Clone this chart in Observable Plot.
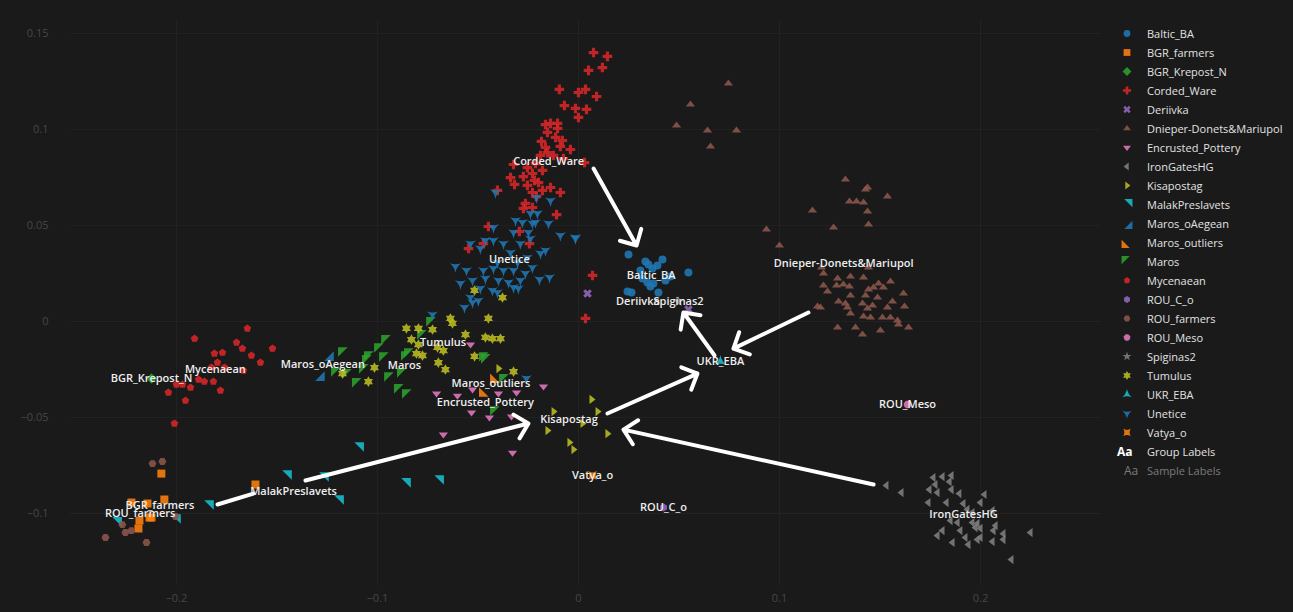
<!DOCTYPE html>
<html><head><meta charset="utf-8">
<script src="https://cdn.jsdelivr.net/npm/d3@7"></script>
<script src="https://cdn.jsdelivr.net/npm/@observablehq/plot@0.6"></script>
<style>
html,body{margin:0;padding:0;background:#1a1a1a;}
#wrap{position:relative;width:1293px;height:612px;overflow:hidden;background:#1a1a1a;}
#legend{position:absolute;left:1117px;top:24px;font-family:"Open Sans",sans-serif;font-size:11px;color:#e2e2e2;}
.item{height:19px;display:flex;align-items:center;white-space:nowrap;}
.item svg{width:20px;height:19px;margin-right:10px;flex:none;}
.aa{width:20px;margin-right:10px;font-weight:700;font-size:12px;text-align:left;flex:none;}
</style></head><body><div id="wrap"><div id="chart"></div><div id="legend"></div></div>
<script>
// ---------- data ----------
const groups = ["Baltic_BA","BGR_farmers","BGR_Krepost_N","Corded_Ware","Deriivka","Dnieper-Donets&Mariupol","Encrusted_Pottery","IronGatesHG","Kisapostag","MalakPreslavets","Maros_oAegean","Maros_outliers","Maros","Mycenaean","ROU_C_o","ROU_farmers","ROU_Meso","Spiginas2","Tumulus","UKR_EBA","Unetice","Vatya_o"];
const palette = ["#1f77b4","#ff7f0e","#2ca02c","#d62728","#9467bd","#8c564b","#e377c2","#7f7f7f","#bcbd22","#17becf"];
const xTicks = [-0.2,-0.1,0,0.1,0.2];
const yTicks = [-0.1,-0.05,0,0.05,0.1,0.15];

const baltic_BA = [[0.0249,0.0349],[0.0333,0.0313],[0.0348,0.0297],[0.0418,0.0323],[0.0393,0.0292],[0.0547,0.0255],[0.0318,0.0224],[0.0343,0.0203],[0.0373,0.0198],[0.0358,0.0182],[0.0433,0.0214],[0.0458,0.0234],[0.0244,0.0156],[0.0264,0.0151],[0.0398,0.0151],[0.0368,0.0276],[0.0308,0.0266]];
const bgr_farmers = [[-0.2075,-0.0792],[-0.1607,-0.0849],[-0.2060,-0.0927],[-0.2224,-0.0943],[-0.2144,-0.0948],[-0.2134,-0.1021],[-0.2184,-0.1037],[-0.2189,-0.1078],[-0.2124,-0.1021]];
const bgr_krepost_N = [[-0.2124,-0.0297]];
const corded_Ware = [[0.0075,0.1401],[0.0144,0.1381],[0.0050,0.1308],[0.0119,0.1323],[-0.0095,0.1209],[0.0000,0.1193],[0.0035,0.1209],[0.0090,0.1172],[-0.0070,0.1125],[-0.0015,0.1110],[0.0040,0.1105],[0.0000,0.1063],[-0.0164,0.1026],[-0.0139,0.1032],[-0.0104,0.1032],[-0.0154,0.0985],[-0.0104,0.1006],[-0.0114,0.0959],[-0.0184,0.0938],[-0.0080,0.0943],[-0.0090,0.0912],[-0.0040,0.0896],[-0.0164,0.0907],[-0.0154,0.0880],[-0.0189,0.0865],[-0.0124,0.0865],[-0.0075,0.0849],[-0.0214,0.0823],[-0.0323,0.0818],[0.0030,0.0828],[-0.0254,0.0802],[-0.0179,0.0787],[-0.0338,0.0750],[-0.0274,0.0755],[-0.0318,0.0714],[-0.0229,0.0771],[-0.0199,0.0724],[-0.0254,0.0709],[-0.0139,0.0698],[-0.0229,0.0672],[-0.0179,0.0683],[-0.0090,0.0672],[-0.0209,0.0651],[-0.0264,0.0615],[-0.0229,0.0594],[-0.0274,0.0589],[-0.0109,0.0557],[-0.0403,0.0683],[-0.0448,0.0495],[-0.0294,0.0469],[-0.0547,0.0380],[-0.0473,0.0406],[-0.0244,0.0406],[0.0070,0.0240],[-0.0219,0.0735],[0.0035,0.0016]];
const deriivka = [[0.0045,0.0146],[0.0547,0.0063]];
const dnieper = [[0.0557,0.1131],[0.0746,0.1240],[0.0488,0.1021],[0.0642,0.0995],[0.0657,0.0912],[0.0786,0.0995],
 [0.1328,0.0740],[0.1438,0.0698],[0.1428,0.0688],[0.1537,0.0651],[0.1348,0.0625],[0.1383,0.0625],[0.1418,0.0620],[0.1164,0.0578],[0.1438,0.0573],[0.1443,0.0505],[0.1269,0.0490],[0.0935,0.0479],[0.1000,0.0396],
 [0.1209,0.0281],[0.1219,0.0250],[0.1289,0.0224],[0.1353,0.0234],[0.1418,0.0229],[0.1443,0.0281],[0.1493,0.0198],[0.1552,0.0208],[0.1219,0.0188],[0.1284,0.0188],[0.1318,0.0193],[0.1348,0.0182],[0.1443,0.0167],[0.1468,0.0177],[0.1517,0.0177],[0.1239,0.0156],[0.1428,0.0135],[0.1488,0.0125],[0.1353,0.0135],[0.1617,0.0146],[0.1562,0.0104],[0.1294,0.0104],[0.1328,0.0094],[0.1413,0.0094],[0.1463,0.0083],[0.1438,0.0068],[0.1189,0.0078],[0.1204,0.0073],[0.1338,0.0073],[0.1537,0.0073],[0.1622,0.0078],[0.1353,0.0042],[0.1418,0.0026],[0.1512,0.0021],[0.1552,0.0021],[0.1453,0.0021],[0.1587,0.0005],[0.1289,-0.0031],[0.1378,-0.0031],[0.1642,-0.0031],[0.1592,-0.0016],[0.1413,-0.0068],[0.1502,-0.0047]];
const encrusted_Pottery = [[-0.0537,-0.0120],[-0.0706,-0.0375],[-0.0602,-0.0386],[-0.0527,-0.0354],[-0.0398,-0.0375],[-0.0308,-0.0370],[-0.0174,-0.0339],[-0.0532,-0.0474],[-0.0443,-0.0500],[-0.0333,-0.0495],[-0.0672,-0.0589],[-0.0328,-0.0683]];
const ironGatesHG = [[0.1532,-0.0854],[0.1607,-0.0891],[0.1766,-0.0813],[0.1811,-0.0808],[0.1856,-0.0802],[0.1776,-0.0849],[0.1846,-0.0834],[0.1746,-0.0875],[0.1786,-0.0891],[0.1856,-0.0875],[0.1895,-0.0896],[0.2020,-0.0901],[0.1741,-0.0943],[0.1831,-0.0943],[0.1915,-0.0948],[0.2000,-0.0943],[0.1935,-0.0979],[0.1960,-0.0995],[0.2060,-0.0985],[0.1851,-0.1037],[0.1886,-0.1047],[0.1960,-0.1047],[0.1985,-0.1052],[0.1975,-0.1073],[0.2000,-0.1078],[0.2075,-0.1063],[0.2065,-0.1089],[0.1811,-0.1089],[0.1900,-0.1089],[0.2000,-0.1125],[0.1786,-0.1115],[0.1925,-0.1125],[0.1985,-0.1136],[0.2114,-0.1105],[0.2114,-0.1136],[0.2060,-0.1146],[0.1861,-0.1151],[0.1940,-0.1162],[0.2249,-0.1099],[0.2154,-0.1240]];
const kisapostag = [[0.0065,-0.0406],[0.0095,-0.0469],[-0.0124,-0.0469],[0.0020,-0.0531],[-0.0154,-0.0568],[0.0144,-0.0584],[-0.0045,-0.0630],[-0.0025,-0.0667],[-0.0398,-0.0245]];
const malakPreslavets = [[-0.1099,-0.0662],[-0.1458,-0.0808],[-0.1274,-0.0818],[-0.1199,-0.0938],[-0.0866,-0.0849],[-0.0701,-0.0834],[-0.1846,-0.0964],[-0.2010,-0.1037],[-0.2303,-0.1052]];
const maros_oAegean = [[-0.1249,-0.0172],[-0.1294,-0.0276]];
const maros_outliers = [[-0.0463,-0.0359],[-0.0408,-0.0287]];
const maros = [[-0.0726,-0.0010],[-0.0771,-0.0078],[-0.0950,-0.0104],[-0.0985,-0.0146],[-0.1035,-0.0188],[-0.0960,-0.0193],[-0.1045,-0.0208],[-0.0851,-0.0188],[-0.0836,-0.0172],[-0.1199,-0.0271],[-0.1144,-0.0281],[-0.1060,-0.0255],[-0.0935,-0.0297],[-0.0871,-0.0276],[-0.1095,-0.0328],[-0.0886,-0.0359],[-0.0846,-0.0386],[-0.0463,-0.0193],[-0.1164,-0.0167],[-0.0408,-0.0474],[-0.0453,-0.0203],[-0.0363,-0.0307]];
const mycenaean = [[-0.1647,-0.0036],[-0.1910,-0.0089],[-0.1701,-0.0109],[-0.1672,-0.0141],[-0.1522,-0.0141],[-0.1811,-0.0167],[-0.1771,-0.0162],[-0.1627,-0.0177],[-0.1796,-0.0214],[-0.1582,-0.0214],[-0.1826,-0.0240],[-0.1761,-0.0240],[-0.1667,-0.0255],[-0.1890,-0.0302],[-0.1861,-0.0313],[-0.1816,-0.0313],[-0.2000,-0.0328],[-0.1970,-0.0328],[-0.1930,-0.0344],[-0.2040,-0.0370],[-0.1781,-0.0359],[-0.1955,-0.0412],[-0.2010,-0.0531]];
const rou_C_o = [[0.0423,-0.0969]];
const rou_farmers = [[-0.2119,-0.0740],[-0.2070,-0.0729],[-0.2005,-0.1016],[-0.2269,-0.1058],[-0.2224,-0.1089],[-0.2254,-0.1099],[-0.2353,-0.1125],[-0.2149,-0.1151]];
const rou_Meso = [[0.1637,-0.0432]];
const spiginas2 = [[0.0498,0.0104]];
const tumulus = [[-0.0856,-0.0036],[-0.0796,-0.0036],[-0.0726,-0.0042],[-0.0637,0.0016],[-0.0627,-0.0010],[-0.0448,0.0016],[-0.0562,-0.0068],[-0.0463,-0.0083],[-0.0428,-0.0089],[-0.0388,-0.0089],[-0.0831,-0.0094],[-0.0796,-0.0120],[-0.0806,-0.0167],[-0.0776,-0.0177],[-0.0672,-0.0151],[-0.0701,-0.0135],[-0.0697,-0.0214],[-0.0662,-0.0250],[-0.0517,-0.0182],[-0.0323,-0.0261],[-0.1015,-0.0240],[-0.1174,-0.0271],[-0.1045,-0.0313],[-0.0517,0.0162],[-0.0378,0.0125]];
const ukr_EBA = [[0.0706,-0.0208]];
const unetice = [[-0.0139,0.0630],[-0.0209,0.0646],[-0.0239,0.0563],[-0.0204,0.0563],[-0.0214,0.0516],[-0.0229,0.0511],[-0.0313,0.0526],[-0.0279,0.0516],[-0.0423,0.0490],[-0.0323,0.0464],[-0.0249,0.0464],[-0.0149,0.0511],[-0.0239,0.0432],[-0.0090,0.0448],[-0.0015,0.0432],[-0.0164,0.0370],[-0.0463,0.0422],[-0.0423,0.0422],[-0.0373,0.0406],[-0.0537,0.0406],[-0.0289,0.0406],[-0.0488,0.0380],[-0.0338,0.0359],[-0.0254,0.0333],[-0.0189,0.0354],[-0.0403,0.0307],[-0.0303,0.0307],[-0.0229,0.0281],[-0.0473,0.0266],[-0.0423,0.0276],[-0.0373,0.0266],[-0.0323,0.0266],[-0.0264,0.0250],[-0.0527,0.0214],[-0.0463,0.0224],[-0.0398,0.0214],[-0.0348,0.0203],[-0.0289,0.0214],[-0.0194,0.0219],[-0.0144,0.0229],[-0.0488,0.0172],[-0.0428,0.0162],[-0.0323,0.0177],[-0.0299,0.0172],[-0.0403,0.0151],[-0.0537,0.0125],[-0.0612,0.0287],[-0.0557,0.0266],[-0.0567,0.0073],[-0.0527,0.0099],[-0.0726,0.0036],[-0.0259,-0.0297],[-0.0015,0.0438],[-0.0413,0.0672],[-0.0498,0.0109],[-0.0587,0.0198]];
const vatya_o = [[0.0070,-0.0802]];

const seriesPoints = [baltic_BA,bgr_farmers,bgr_krepost_N,corded_Ware,deriivka,dnieper,encrusted_Pottery,ironGatesHG,kisapostag,malakPreslavets,maros_oAegean,maros_outliers,maros,mycenaean,rou_C_o,rou_farmers,rou_Meso,spiginas2,tumulus,ukr_EBA,unetice,vatya_o];

// annotation arrows (data units)
const arrowStarts = [[0.0075,0.0797],[0.1144,0.0047],[0.0677,-0.0177],[0.0144,-0.0479],[0.1468,-0.0849],[-0.1358,-0.0828]];
const arrowEnds   = [[0.0289,0.0396],[0.0771,-0.0141],[0.0522,0.0047],[0.0592,-0.0271],[0.0224,-0.0563],[-0.0249,-0.0531]];
const lineStarts = [[-0.1796,-0.0953]];
const lineEnds   = [[-0.1617,-0.0896]];

// ---------- symbols (plotly-like) ----------
function poly(pts){return {draw(ctx,size){const r=Math.sqrt(size/Math.PI);pts.forEach(([a,b],i)=>i?ctx.lineTo(a*r,b*r):ctx.moveTo(a*r,b*r));ctx.closePath();}};}
function concave(verts,k){return {draw(ctx,size){const r=Math.sqrt(size/Math.PI);const n=verts.length;ctx.moveTo(verts[0][0]*r,verts[0][1]*r);for(let i=0;i<n;i++){const a=verts[i],b=verts[(i+1)%n];const mx=(a[0]+b[0])/2*k,my=(a[1]+b[1])/2*k;ctx.quadraticCurveTo(mx*r,my*r,b[0]*r,b[1]*r);}ctx.closePath();}};}
const circle={draw(ctx,size){const r=Math.sqrt(size/Math.PI);ctx.moveTo(r,0);ctx.arc(0,0,r,0,2*Math.PI);}};
const c1=0.4,c2=1.2;
const crossPts=[[c2,c1],[c1,c1],[c1,c2],[-c1,c2],[-c1,c1],[-c2,c1],[-c2,-c1],[-c1,-c1],[-c1,-c2],[c1,-c2],[c1,-c1],[c2,-c1]];
const xPts=crossPts.map(([a,b])=>[(a-b)*0.68,(a+b)*0.68]);
const rt=2/Math.sqrt(3),t1=1.6,t2=0.8;
const s3=Math.sqrt(3)/2;
const st=1.4;
const symbols=[
 circle,
 poly([[-1,-1],[1,-1],[1,1],[-1,1]]),
 poly([[1.3,0],[0,1.3],[-1.3,0],[0,-1.3]]),
 poly(crossPts),
 poly(xPts),
 poly([[-rt,0.5],[rt,0.5],[0,-1]]),
 poly([[-rt,-0.5],[rt,-0.5],[0,1]]),
 poly([[0.5,-rt],[0.5,rt],[-1,0]]),
 poly([[-0.5,-rt],[-0.5,rt],[1,0]]),
 poly([[-t2,-t1],[t1,-t1],[t1,t2]]),
 poly([[t1,-t2],[t1,t1],[-t2,t1]]),
 poly([[t2,t1],[-t1,t1],[-t1,-t2]]),
 poly([[-t1,t2],[-t1,-t1],[t2,-t1]]),
 poly([[0.951,-0.309],[0.588,0.809],[-0.588,0.809],[-0.951,-0.309],[0,-1]]),
 poly([[s3,-0.5],[s3,0.5],[0,1],[-s3,0.5],[-s3,-0.5],[0,-1]]),
 poly([[-0.5,s3],[0.5,s3],[1,0],[0.5,-s3],[-0.5,-s3],[-1,0]]),
 poly([[-0.383,-0.924],[0.383,-0.924],[0.924,-0.383],[0.924,0.383],[0.383,0.924],[-0.383,0.924],[-0.924,0.383],[-0.924,-0.383]]),
 poly([[0.225*st,-0.309*st],[0.951*st,-0.309*st],[0.363*st,0.118*st],[0.588*st,0.809*st],[0,0.382*st],[-0.588*st,0.809*st],[-0.363*st,0.118*st],[-0.951*st,-0.309*st],[-0.225*st,-0.309*st],[0,-st]]),
 poly([[-0.76,0],[-1.14,-0.66],[-0.38,-0.66],[0,-1.32],[0.38,-0.66],[1.14,-0.66],[0.76,0],[1.14,0.66],[0.38,0.66],[0,1.32],[-0.38,0.66],[-1.14,0.66]]),
 concave([[-Math.sqrt(3)*0.8,0.8],[0,-1.6],[Math.sqrt(3)*0.8,0.8]],0.375),
 concave([[-Math.sqrt(3)*0.8,-0.8],[Math.sqrt(3)*0.8,-0.8],[0,1.6]],0.375),
 concave([[-1.1,-1.1],[1.1,-1.1],[1.1,1.1],[-1.1,1.1]],0.4)
];

// ---------- table ----------
const rows = [];
groups.forEach((g,i)=>seriesPoints[i].forEach(([x,y])=>rows.push({group:g,x,y})));
const fmt = d => (d<0?"\u2212":"") + String(+Math.abs(d).toFixed(4));

const marks = [
  Plot.gridX(xTicks,{stroke:"#232323",strokeOpacity:1}),
  Plot.gridY(yTicks,{stroke:"#232323",strokeOpacity:1}),
  Plot.axisX(xTicks,{tickSize:0,tickPadding:9,tickFormat:fmt,color:"#474747",fontSize:11,label:null}),
  Plot.axisY(yTicks,{tickSize:0,tickPadding:22,tickFormat:fmt,color:"#474747",fontSize:11,label:null}),
];
groups.forEach((g,i)=>{
  marks.push(Plot.dot(rows.filter(d=>d.group===g),{x:"x",y:"y",symbol:symbols[i],r:4,fill:palette[i%10],fillOpacity:0.88,stroke:"none"}));
});
marks.push(Plot.link(lineStarts.map((s,i)=>({s,e:lineEnds[i]})),{x1:d=>d.s[0],y1:d=>d.s[1],x2:d=>d.e[0],y2:d=>d.e[1],stroke:"white",strokeWidth:4,strokeLinecap:"round"}));
marks.push(Plot.arrow(arrowStarts.map((s,i)=>({s,e:arrowEnds[i]})),{x1:d=>d.s[0],y1:d=>d.s[1],x2:d=>d.e[0],y2:d=>d.e[1],stroke:"white",strokeWidth:4,headLength:6.5,headAngle:90,strokeLinecap:"round",strokeLinejoin:"round"}));
marks.push(Plot.text(rows,Plot.groupZ({x:"mean",y:"mean",text:"first"},{x:"x",y:"y",z:"group",text:"group",fill:"#eeeeee",fontSize:11,fontWeight:600,fontFamily:"Open Sans"})));

const chart = Plot.plot({
  width:1293,height:612,
  marginLeft:70,marginRight:193,marginTop:20,marginBottom:27,
  x:{domain:[-0.2527,0.2597]},
  y:{domain:[-0.1375,0.1568]},
  style:{background:"#1a1a1a",fontFamily:"Open Sans",overflow:"visible"},
  marks
});
document.getElementById("chart").appendChild(chart);

// ---------- legend ----------
const legend = d3.select("#legend");
groups.forEach((g,i)=>{
  const item = legend.append("div").attr("class","item");
  const p = d3.path(); symbols[i].draw(p, Math.PI*3.4*3.4);
  item.append("svg").append("path").attr("transform","translate(10,9.5)").attr("d",p.toString()).attr("fill",palette[i%10]).attr("fill-opacity",0.88);
  item.append("span").text(g);
});
const gl = legend.append("div").attr("class","item");
gl.append("span").attr("class","aa").style("color","#ffffff").text("Aa");
gl.append("span").text("Group Labels");
const sl = legend.append("div").attr("class","item").style("color","#7a7a7a");
sl.append("span").attr("class","aa").style("padding-left","7px").style("width","13px").style("font-weight","400").text("Aa");
sl.append("span").text("Sample Labels");
</script></body></html>
